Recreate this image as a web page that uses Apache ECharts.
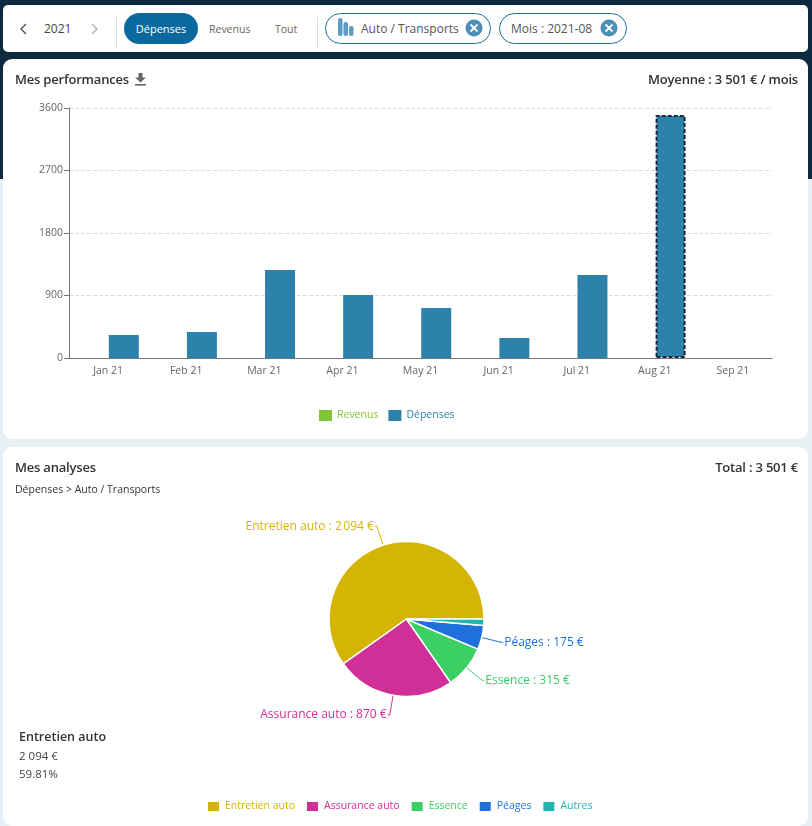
<!DOCTYPE html>
<html lang="fr">
  <head>
    <meta charset="UTF-8" />
    <title>Mes performances</title>
    <style>
      html, body { margin: 0; padding: 0; }
      body {
        width: 812px; height: 826px; overflow: hidden; position: relative;
        background: #e7f0f5; font-family: "Open Sans", sans-serif; color: #333;
      }
      #top { position: absolute; left: 0; top: 0; width: 812px; height: 179px; background: #0e2a3e; }
      .card { position: absolute; left: 3px; width: 805px; background: #fff; border-radius: 9px; }
      #bar { position: absolute; left: 3px; top: 5px; width: 805px; height: 47px; background: #fff; border-radius: 5px; }
      #c1 { top: 59px; height: 380px; }
      #c2 { top: 447px; height: 379px; }
      #d1, #d2 { position: absolute; left: 0; top: 0; width: 805px; height: 100%; }
      .t { position: absolute; white-space: nowrap; line-height: 16px; }
      .title { font-size: 13px; font-weight: 600; color: #333; letter-spacing: -0.2px; }
      .pill { position: absolute; top: 13px; height: 28px; border: 1.5px solid #1f6f9c; border-radius: 16px; box-sizing: border-box; }
      .sep { position: absolute; top: 12px; width: 1px; height: 32px; background: #d8dde0; }
    </style>
  </head>
  <body>
    <div id="top"></div>
    <div id="bar">
      <svg style="position:absolute;left:16px;top:17px" width="10" height="14"><path d="M7 2 L2 7 L7 12" fill="none" stroke="#444" stroke-width="1.2"/></svg>
      <div class="t" style="left:41px;top:16px;font-size:12px;color:#444">2021</div>
      <svg style="position:absolute;left:87px;top:17px" width="10" height="14"><path d="M2 2 L7 7 L2 12" fill="none" stroke="#aaa" stroke-width="1.2"/></svg>
      <div class="sep" style="left:113px"></div>
      <div class="t" style="left:121px;top:8px;width:74px;height:31px;line-height:32px;background:#0a6a9f;color:#fff;border-radius:16px;text-align:center;font-size:11px">Dépenses</div>
      <div class="t" style="left:206px;top:16px;font-size:10.5px;color:#666">Revenus</div>
      <div class="t" style="left:272px;top:16px;font-size:10.5px;color:#666">Tout</div>
      <div class="sep" style="left:314px"></div>
      <div class="pill" style="left:322px;top:8px;width:166px;height:31px"></div>
      <svg style="position:absolute;left:335px;top:13px" width="20" height="20"><rect x="0" y="0" width="4.5" height="18" fill="#5b9cc2" rx="2"/><rect x="5.5" y="4" width="4.5" height="14" fill="#5b9cc2" rx="2"/><rect x="11" y="8" width="4.5" height="10" fill="#5b9cc2" rx="2"/></svg>
      <div class="t" style="left:358px;top:16px;font-size:12px;color:#555">Auto / Transports</div>
      <svg style="position:absolute;left:462px;top:14px" width="18" height="18"><circle cx="9" cy="9" r="8.5" fill="#4c8fb8"/><path d="M5.5 5.5 L12.5 12.5 M12.5 5.5 L5.5 12.5" stroke="#fff" stroke-width="1.8"/></svg>
      <div class="pill" style="left:496px;top:8px;width:128px;height:31px"></div>
      <div class="t" style="left:508px;top:16px;font-size:12px;color:#555">Mois : 2021-08</div>
      <svg style="position:absolute;left:597px;top:14px" width="18" height="18"><circle cx="9" cy="9" r="8.5" fill="#4c8fb8"/><path d="M5.5 5.5 L12.5 12.5 M12.5 5.5 L5.5 12.5" stroke="#fff" stroke-width="1.8"/></svg>
    </div>

    <div class="card" id="c1">
      <div id="d1"></div>
      <div class="t title" style="left:12px;top:12px">Mes performances</div>
      <svg style="position:absolute;left:131px;top:13px" width="14" height="15"><path d="M4.5 1 H8.5 V5.5 H12 L6.5 10.5 L1 5.5 H4.5 Z" fill="#666"/><rect x="1" y="12" width="11" height="1.6" fill="#666"/></svg>
      <div class="t title" style="right:10px;top:12px">Moyenne : 3 501 € / mois</div>
    </div>

    <div class="card" id="c2">
      <div id="d2"></div>
      <div class="t title" style="left:12px;top:12px">Mes analyses</div>
      <div class="t title" style="right:10px;top:12px">Total : 3 501 €</div>
      <div class="t" style="left:12px;top:34px;font-size:10.5px;color:#333">Dépenses &gt; Auto / Transports</div>
      <div class="t" style="left:16px;top:282px;font-size:12.5px;font-weight:600;color:#333">Entretien auto</div>
      <div class="t" style="left:16px;top:301px;font-size:11.5px;color:#444">2 094 €</div>
      <div class="t" style="left:16px;top:319px;font-size:11.5px;color:#444">59.81%</div>
    </div>

    <script src="https://cdn.jsdelivr.net/npm/echarts@6/dist/echarts.min.js"></script>
    <script>
      // valeurs
      const months = ["Jan 21", "Feb 21", "Mar 21", "Apr 21", "May 21", "Jun 21", "Jul 21", "Aug 21", "Sep 21"];
      const revenus = [0, 0, 0, 0, 0, 0, 0, 0, 0];
      const depenses = [331, 374, 1267, 907, 720, 288, 1195, 3501, 0];
      const selectedMonth = "Aug 21";

      const pieNames = ["Entretien auto", "Assurance auto", "Essence", "Péages", "Autres"];
      const pieValues = [2094, 870, 315, 175, 47];
      const pieColors = ["#d4b504", "#cf2f97", "#3ccf63", "#1f6fdc", "#22b5b0"];
      const hiddenLabels = ["Autres"];

      const font = '"Open Sans", sans-serif';

      function euros(v) {
        const s = String(v);
        return s.length > 3 ? s.slice(0, -3) + "\u202f" + s.slice(-3) : s;
      }

      // histogramme
      const chart1 = echarts.init(document.getElementById("d1"));
      chart1.setOption({
        animation: false,
        textStyle: { fontFamily: font },
        grid: { left: 66, right: 36, top: 49, height: 250 },
        legend: {
          top: 346,
          left: 311,
          icon: "rect",
          itemWidth: 13,
          itemHeight: 11,
          itemGap: 10,
          textStyle: { fontSize: 10.5, color: "inherit", fontFamily: font },
          data: ["Revenus", "Dépenses"],
        },
        xAxis: {
          type: "category",
          data: months,
          axisLine: { lineStyle: { color: "#777" } },
          axisTick: { alignWithLabel: true, lineStyle: { color: "#777" } },
          axisLabel: { color: "#666", fontSize: 10.5, margin: 8 },
        },
        yAxis: {
          type: "value",
          min: 0,
          max: 3600,
          interval: 900,
          axisLine: { show: true, lineStyle: { color: "#777" } },
          axisTick: { show: true, lineStyle: { color: "#777" } },
          axisLabel: { color: "#666", fontSize: 10.5, margin: 6, formatter: (v) => String(v) },
          splitLine: { lineStyle: { color: "#ddd", type: "dashed" } },
        },
        series: [
          { name: "Revenus", type: "bar", barWidth: 30, barGap: "5%", itemStyle: { color: "#7ec636" }, data: revenus },
          {
            name: "Dépenses",
            type: "bar",
            barWidth: 30,
            itemStyle: { color: "#2d82ab" },
            data: depenses.map((v, i) =>
              months[i] === selectedMonth
                ? { value: v, itemStyle: { borderColor: "#14293a", borderWidth: 2, borderType: [4, 2] } }
                : v
            ),
          },
        ],
      });

      // camembert
      const chart2 = echarts.init(document.getElementById("d2"));
      chart2.setOption({
        animation: false,
        textStyle: { fontFamily: font },
        legend: {
          top: 348,
          left: 198,
          icon: "rect",
          itemWidth: 13,
          itemHeight: 11,
          itemGap: 10,
          textStyle: { fontSize: 10.5, color: "inherit", fontFamily: font },
          data: pieNames,
        },
        series: [
          {
            type: "pie",
            center: [403.5, 172],
            radius: 77.5,
            startAngle: 0,
            clockwise: false,
            itemStyle: { borderColor: "#fff", borderWidth: 1.5 },
            label: {
              fontSize: 12,
              fontFamily: font,
              color: "inherit",
              distanceToLabelLine: 1,
              formatter: (p) => p.name + " : " + euros(p.value) + " €",
            },
            labelLine: { length: 20, length2: 2, lineStyle: { width: 1 } },
            data: pieNames.map((name, i) => ({
              name: name,
              value: pieValues[i],
              itemStyle: { color: pieColors[i] },
              label: { show: !hiddenLabels.includes(name), color: pieColors[i] },
              labelLine: { show: !hiddenLabels.includes(name) },
            })),
          },
        ],
      });
    </script>
  </body>
</html>
